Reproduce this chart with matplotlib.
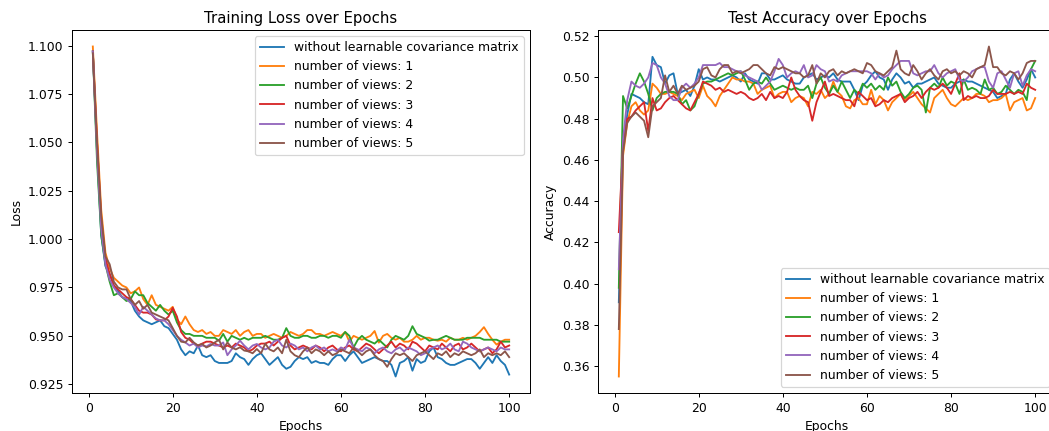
import matplotlib
matplotlib.use("Agg")
import matplotlib.pyplot as plt
import numpy as np

epochs = list(range(1, 101))
labels = ["without learnable covariance matrix", "number of views: 1", "number of views: 2",
          "number of views: 3", "number of views: 4", "number of views: 5"]

loss_base = [1.097, 1.045, 1.002, 0.986, 0.982, 0.976, 0.973, 0.970, 0.969, 0.968,
             0.963, 0.960, 0.958, 0.957, 0.956, 0.957, 0.958, 0.955, 0.954, 0.951,
             0.948, 0.943, 0.940, 0.942, 0.941, 0.945, 0.940, 0.939, 0.940, 0.937,
             0.936, 0.936, 0.936, 0.937, 0.941, 0.939, 0.938, 0.935, 0.938, 0.940,
             0.941, 0.938, 0.935, 0.937, 0.939, 0.935, 0.933, 0.934, 0.937, 0.939,
             0.938, 0.939, 0.936, 0.937, 0.936, 0.936, 0.935, 0.938, 0.940, 0.940,
             0.937, 0.940, 0.942, 0.939, 0.936, 0.937, 0.938, 0.939, 0.938, 0.937,
             0.937, 0.935, 0.929, 0.936, 0.937, 0.939, 0.932, 0.938, 0.936, 0.937,
             0.942, 0.944, 0.939, 0.938, 0.936, 0.935, 0.935, 0.936, 0.937, 0.938,
             0.938, 0.936, 0.933, 0.936, 0.939, 0.936, 0.940, 0.937, 0.935, 0.930]
loss_v1 = [1.0995, 1.055, 1.015, 0.993, 0.985, 0.980, 0.978, 0.976, 0.975, 0.972,
           0.973, 0.975, 0.969, 0.966, 0.971, 0.966, 0.965, 0.964, 0.963, 0.965,
           0.9585, 0.956, 0.960, 0.956, 0.953, 0.952, 0.953, 0.951, 0.952, 0.950,
           0.950, 0.953, 0.952, 0.951, 0.953, 0.950, 0.952, 0.953, 0.950, 0.951,
           0.951, 0.949, 0.950, 0.951, 0.950, 0.949, 0.950, 0.952, 0.951, 0.950,
           0.951, 0.953, 0.953, 0.951, 0.951, 0.950, 0.951, 0.952, 0.951, 0.950,
           0.952, 0.947, 0.950, 0.949, 0.948, 0.949, 0.950, 0.9525, 0.9465, 0.950,
           0.951, 0.949, 0.948, 0.949, 0.947, 0.947, 0.948, 0.950, 0.948, 0.949,
           0.949, 0.948, 0.9475, 0.948, 0.947, 0.949, 0.948, 0.948, 0.949, 0.948,
           0.949, 0.950, 0.952, 0.9545, 0.951, 0.948, 0.9455, 0.947, 0.948, 0.948]
loss_v2 = [1.097, 1.040, 1.002, 0.987, 0.978, 0.971, 0.972, 0.970, 0.968, 0.969,
           0.973, 0.971, 0.971, 0.967, 0.965, 0.963, 0.966, 0.963, 0.961, 0.963,
           0.957, 0.953, 0.951, 0.951, 0.950, 0.950, 0.950, 0.949, 0.949, 0.949,
           0.9475, 0.951, 0.947, 0.950, 0.949, 0.948, 0.949, 0.948, 0.949, 0.949,
           0.949, 0.950, 0.949, 0.948, 0.948, 0.949, 0.954, 0.950, 0.949, 0.949,
           0.950, 0.950, 0.949, 0.949, 0.950, 0.950, 0.949, 0.950, 0.950, 0.949,
           0.952, 0.950, 0.944, 0.948, 0.950, 0.948, 0.947, 0.946, 0.948, 0.946,
           0.944, 0.948, 0.950, 0.949, 0.948, 0.950, 0.955, 0.951, 0.950, 0.949,
           0.9475, 0.948, 0.948, 0.949, 0.950, 0.949, 0.948, 0.948, 0.948, 0.949,
           0.949, 0.949, 0.949, 0.948, 0.948, 0.948, 0.948, 0.947, 0.947, 0.947]
loss_v3 = [1.097, 1.050, 1.010, 0.990, 0.982, 0.976, 0.974, 0.972, 0.970, 0.969,
           0.966, 0.963, 0.962, 0.962, 0.961, 0.9585, 0.958, 0.958, 0.960, 0.9645,
           0.960, 0.952, 0.949, 0.948, 0.946, 0.945, 0.946, 0.947, 0.947, 0.946,
           0.945, 0.944, 0.945, 0.944, 0.946, 0.945, 0.944, 0.942, 0.943, 0.945,
           0.946, 0.946, 0.947, 0.945, 0.947, 0.949, 0.950, 0.945, 0.943, 0.944,
           0.945, 0.944, 0.943, 0.945, 0.944, 0.942, 0.944, 0.945, 0.943, 0.942,
           0.944, 0.945, 0.943, 0.942, 0.944, 0.946, 0.945, 0.943, 0.941, 0.943,
           0.945, 0.947, 0.944, 0.946, 0.945, 0.943, 0.947, 0.946, 0.944, 0.942,
           0.945, 0.944, 0.943, 0.946, 0.944, 0.942, 0.945, 0.946, 0.943, 0.944,
           0.946, 0.944, 0.942, 0.943, 0.944, 0.941, 0.943, 0.947, 0.944, 0.945]
loss_v4 = [1.097, 1.045, 1.005, 0.987, 0.979, 0.975, 0.972, 0.970, 0.969, 0.967,
           0.965, 0.961, 0.965, 0.963, 0.961, 0.959, 0.958, 0.958, 0.956, 0.953,
           0.950, 0.948, 0.9466, 0.945, 0.946, 0.944, 0.945, 0.9445, 0.9458, 0.945,
           0.945, 0.9466, 0.940, 0.943, 0.945, 0.9475, 0.945, 0.943, 0.945, 0.9458,
           0.944, 0.943, 0.944, 0.947, 0.948, 0.945, 0.944, 0.946, 0.945, 0.943,
           0.944, 0.942, 0.944, 0.945, 0.943, 0.944, 0.942, 0.943, 0.942, 0.944,
           0.943, 0.948, 0.944, 0.943, 0.942, 0.944, 0.943, 0.941, 0.943, 0.944,
           0.942, 0.941, 0.943, 0.944, 0.942, 0.944, 0.943, 0.942, 0.940, 0.941,
           0.943, 0.944, 0.945, 0.943, 0.944, 0.946, 0.943, 0.942, 0.947, 0.946,
           0.944, 0.943, 0.942, 0.943, 0.944, 0.943, 0.942, 0.944, 0.943, 0.943]
loss_v5 = [1.096, 1.050, 1.012, 0.991, 0.987, 0.978, 0.975, 0.974, 0.974, 0.969,
           0.966, 0.968, 0.964, 0.966, 0.962, 0.961, 0.960, 0.959, 0.958, 0.954,
           0.950, 0.947, 0.9466, 0.949, 0.9466, 0.945, 0.9458, 0.944, 0.945, 0.9466,
           0.948, 0.943, 0.9466, 0.944, 0.943, 0.9441, 0.9424, 0.942, 0.941, 0.9432,
           0.941, 0.946, 0.943, 0.942, 0.944, 0.941, 0.948, 0.942, 0.940, 0.939,
           0.942, 0.944, 0.941, 0.943, 0.942, 0.940, 0.942, 0.940, 0.941, 0.943,
           0.942, 0.941, 0.944, 0.942, 0.940, 0.942, 0.943, 0.940, 0.938, 0.937,
           0.934, 0.938, 0.941, 0.940, 0.941, 0.939, 0.937, 0.940, 0.941, 0.942,
           0.940, 0.938, 0.941, 0.940, 0.942, 0.939, 0.941, 0.940, 0.942, 0.941,
           0.940, 0.941, 0.943, 0.939, 0.941, 0.940, 0.941, 0.940, 0.942, 0.939]

acc_base = [0.391, 0.466, 0.482, 0.492, 0.491, 0.490, 0.488, 0.487, 0.510, 0.506,
            0.505, 0.497, 0.501, 0.502, 0.492, 0.493, 0.494, 0.491, 0.496, 0.504,
            0.499, 0.500, 0.499, 0.499, 0.498, 0.499, 0.500, 0.501, 0.500, 0.498,
            0.502, 0.499, 0.498, 0.497, 0.502, 0.502, 0.499, 0.499, 0.500, 0.501,
            0.499, 0.498, 0.497, 0.497, 0.500, 0.501, 0.502, 0.499, 0.500, 0.501,
            0.500, 0.502, 0.499, 0.498, 0.498, 0.498, 0.494, 0.489, 0.496, 0.498,
            0.501, 0.503, 0.500, 0.499, 0.494, 0.499, 0.502, 0.500, 0.497, 0.498,
            0.495, 0.497, 0.497, 0.498, 0.499, 0.500, 0.497, 0.496, 0.495, 0.495,
            0.497, 0.498, 0.499, 0.498, 0.498, 0.497, 0.496, 0.495, 0.494, 0.493,
            0.490, 0.491, 0.492, 0.499, 0.502, 0.498, 0.495, 0.499, 0.504, 0.500]
acc_v1 = [0.355, 0.462, 0.478, 0.486, 0.488, 0.484, 0.482, 0.484, 0.497, 0.495,
          0.492, 0.492, 0.493, 0.492, 0.491, 0.489, 0.492, 0.493, 0.494, 0.490,
          0.496, 0.491, 0.489, 0.486, 0.491, 0.494, 0.497, 0.500, 0.499, 0.499,
          0.498, 0.498, 0.497, 0.492, 0.494, 0.495, 0.496, 0.490, 0.492, 0.493,
          0.493, 0.488, 0.490, 0.491, 0.490, 0.486, 0.493, 0.492, 0.494, 0.490,
          0.492, 0.498, 0.493, 0.491, 0.486, 0.485, 0.489, 0.490, 0.487, 0.487,
          0.494, 0.487, 0.491, 0.489, 0.484, 0.488, 0.490, 0.492, 0.489, 0.491,
          0.493, 0.490, 0.487, 0.485, 0.483, 0.490, 0.492, 0.494, 0.490, 0.487,
          0.486, 0.488, 0.490, 0.489, 0.490, 0.492, 0.492, 0.491, 0.488, 0.489,
          0.489, 0.490, 0.492, 0.484, 0.488, 0.489, 0.490, 0.484, 0.485, 0.490]
acc_v2 = [0.398, 0.491, 0.485, 0.491, 0.497, 0.502, 0.498, 0.492, 0.484, 0.490,
          0.492, 0.493, 0.493, 0.493, 0.492, 0.487, 0.489, 0.484, 0.486, 0.492,
          0.497, 0.498, 0.498, 0.499, 0.500, 0.501, 0.502, 0.501, 0.502, 0.503,
          0.499, 0.494, 0.497, 0.498, 0.497, 0.500, 0.497, 0.494, 0.495, 0.496,
          0.495, 0.494, 0.495, 0.494, 0.494, 0.496, 0.490, 0.497, 0.500, 0.495,
          0.492, 0.496, 0.493, 0.498, 0.494, 0.490, 0.494, 0.492, 0.497, 0.495,
          0.497, 0.494, 0.496, 0.494, 0.500, 0.496, 0.498, 0.493, 0.490, 0.492,
          0.495, 0.496, 0.494, 0.483, 0.495, 0.497, 0.495, 0.500, 0.496, 0.498,
          0.497, 0.492, 0.499, 0.494, 0.495, 0.494, 0.492, 0.499, 0.494, 0.495,
          0.492, 0.493, 0.496, 0.494, 0.492, 0.494, 0.493, 0.489, 0.504, 0.508]
acc_v3 = [0.425, 0.468, 0.480, 0.481, 0.484, 0.486, 0.488, 0.474, 0.490, 0.484,
          0.485, 0.488, 0.490, 0.491, 0.489, 0.487, 0.485, 0.484, 0.488, 0.492,
          0.498, 0.497, 0.496, 0.494, 0.495, 0.493, 0.494, 0.493, 0.492, 0.493,
          0.492, 0.490, 0.489, 0.490, 0.492, 0.489, 0.493, 0.490, 0.491, 0.490,
          0.493, 0.500, 0.494, 0.491, 0.489, 0.488, 0.479, 0.488, 0.493, 0.498,
          0.491, 0.492, 0.491, 0.490, 0.489, 0.489, 0.486, 0.493, 0.491, 0.489,
          0.490, 0.486, 0.487, 0.489, 0.488, 0.490, 0.491, 0.492, 0.488, 0.490,
          0.491, 0.493, 0.490, 0.493, 0.495, 0.494, 0.495, 0.497, 0.495, 0.492,
          0.497, 0.502, 0.489, 0.491, 0.490, 0.491, 0.490, 0.490, 0.491, 0.494,
          0.492, 0.492, 0.492, 0.493, 0.492, 0.493, 0.492, 0.497, 0.495, 0.494]
acc_v4 = [0.407, 0.470, 0.489, 0.498, 0.496, 0.495, 0.497, 0.500, 0.507, 0.506,
          0.500, 0.497, 0.491, 0.489, 0.489, 0.495, 0.497, 0.495, 0.497, 0.500,
          0.506, 0.506, 0.506, 0.506, 0.507, 0.505, 0.505, 0.504, 0.503, 0.503,
          0.501, 0.500, 0.499, 0.498, 0.494, 0.496, 0.498, 0.503, 0.509, 0.506,
          0.500, 0.502, 0.503, 0.502, 0.506, 0.500, 0.501, 0.506, 0.504, 0.503,
          0.498, 0.499, 0.498, 0.501, 0.502, 0.503, 0.503, 0.503, 0.503, 0.503,
          0.502, 0.499, 0.502, 0.500, 0.501, 0.504, 0.506, 0.508, 0.508, 0.508,
          0.502, 0.501, 0.502, 0.503, 0.503, 0.506, 0.502, 0.500, 0.502, 0.503,
          0.504, 0.499, 0.498, 0.500, 0.503, 0.504, 0.505, 0.505, 0.498, 0.495,
          0.502, 0.503, 0.499, 0.495, 0.502, 0.503, 0.496, 0.501, 0.504, 0.503]
acc_v5 = [0.378, 0.464, 0.478, 0.481, 0.483, 0.481, 0.479, 0.471, 0.486, 0.488,
          0.490, 0.501, 0.493, 0.496, 0.492, 0.496, 0.494, 0.495, 0.496, 0.498,
          0.504, 0.505, 0.501, 0.500, 0.504, 0.506, 0.506, 0.502, 0.503, 0.502,
          0.503, 0.504, 0.506, 0.506, 0.504, 0.502, 0.501, 0.505, 0.504, 0.505,
          0.504, 0.503, 0.502, 0.502, 0.500, 0.501, 0.506, 0.497, 0.502, 0.500,
          0.503, 0.504, 0.501, 0.503, 0.502, 0.503, 0.504, 0.503, 0.502, 0.507,
          0.506, 0.503, 0.502, 0.501, 0.503, 0.505, 0.513, 0.504, 0.502, 0.501,
          0.506, 0.503, 0.499, 0.502, 0.504, 0.501, 0.499, 0.503, 0.504, 0.502,
          0.503, 0.501, 0.503, 0.502, 0.500, 0.504, 0.505, 0.506, 0.515, 0.505,
          0.505, 0.502, 0.501, 0.503, 0.502, 0.499, 0.502, 0.507, 0.508, 0.508]

loss_series = [loss_base, loss_v1, loss_v2, loss_v3, loss_v4, loss_v5]
acc_series = [acc_base, acc_v1, acc_v2, acc_v3, acc_v4, acc_v5]

DPI = 89
fig = plt.figure(figsize=(1049 / DPI, 431 / DPI), dpi=DPI)
ax1 = fig.add_axes([72/1049, 1-393/431, 458/1049, 363/431])
ax2 = fig.add_axes([598/1049, 1-393/431, 458/1049, 363/431])

for s, lab in zip(loss_series, labels):
    ax1.plot(epochs, s, label=lab)
ax1.set_title("Training Loss over Epochs")
ax1.set_xlabel("Epochs")
ax1.set_ylabel("Loss")
ax1.legend(loc="upper right")

for s, lab in zip(acc_series, labels):
    ax2.plot(epochs, s, label=lab)
ax2.set_title("Test Accuracy over Epochs")
ax2.set_xlabel("Epochs")
ax2.set_ylabel("Accuracy")
ax2.legend(loc="lower right")

fig.savefig("out.png", dpi=DPI)
